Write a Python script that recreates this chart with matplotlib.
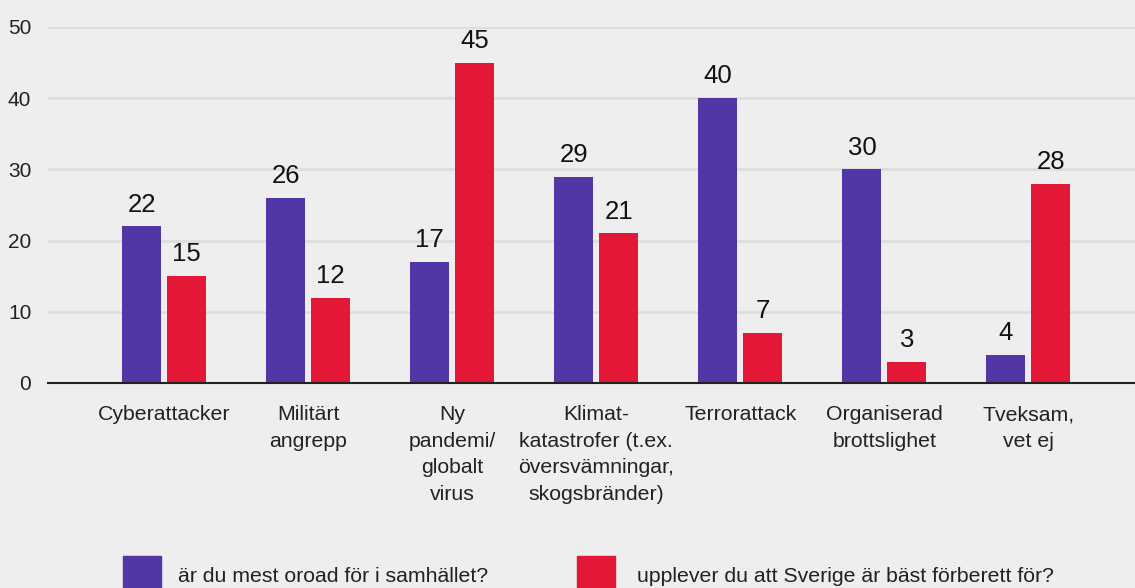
import numpy as np
import matplotlib.pyplot as plt
from matplotlib.patches import Rectangle

plt.rcParams['font.family'] = ['Liberation Sans', 'DejaVu Sans']

categories = ["Cyberattacker", "Militärt\nangrepp", "Ny\npandemi/\nglobalt\nvirus",
              "Klimat-\nkatastrofer (t.ex.\növersvämningar,\nskogsbränder)",
              "Terrorattack", "Organiserad\nbrottslighet", "Tveksam,\nvet ej"]
oroad = [22, 26, 17, 29, 40, 30, 4]
forberett = [15, 12, 45, 21, 7, 3, 28]
series_labels = ["är du mest oroad för i samhället?",
                 "upplever du att Sverige är bäst förberett för?"]
yticks = [0, 10, 20, 30, 40, 50]

purple = "#5236a8"
red = "#e31837"
bg = "#eeeeee"
txt = "#222222"

fig = plt.figure(figsize=(11.35, 5.88), dpi=100, facecolor=bg)
ax = fig.add_axes([48 / 1135, 1 - 383 / 588, 1 - 48 / 1135, (383 - 27) / 588])
ax.set_facecolor(bg)

x = np.arange(len(categories))
w = 0.27
off = 0.156
b1 = ax.bar(x - off, oroad, w, color=purple, zorder=3)
b2 = ax.bar(x + off, forberett, w, color=red, zorder=3)

# value labels above bars
for bars, vals in ((b1, oroad), (b2, forberett)):
    for b, v in zip(bars, vals):
        ax.annotate(str(v), (b.get_x() + b.get_width() / 2, v), xytext=(0, 7),
                    textcoords="offset points", ha="center", va="bottom",
                    fontsize=18.5, color="#111111")

ax.set_xlim(-0.806, 6.74)
ax.set_ylim(0, 50)
ax.set_yticks(yticks)
ax.set_xticks(x)
ax.set_xticklabels(categories, fontsize=15.3, color=txt, linespacing=1.5, va="top")
ax.tick_params(axis="x", length=0, pad=16)
ax.tick_params(axis="y", length=0, pad=12, labelsize=15, labelcolor=txt)
ax.grid(axis="y", color="#dedede", linewidth=2, zorder=0)
for s in ["top", "right", "left"]:
    ax.spines[s].set_visible(False)
ax.spines["bottom"].set_color("#222222")
ax.spines["bottom"].set_linewidth(1.5)
ax.spines["bottom"].set_zorder(4)

# legend drawn by hand at the bottom
for xpos, col, lab, tx in ((123, purple, series_labels[0], 178),
                           (577, red, series_labels[1], 637)):
    fig.patches.append(Rectangle((xpos / 1135, 0), 38 / 1135, 32 / 588,
                                 transform=fig.transFigure, color=col))
    fig.text(tx / 1135, 1 - 576 / 588, lab, fontsize=15.3, color=txt, va="center")

fig.savefig("out.png", dpi=100, facecolor=bg)
